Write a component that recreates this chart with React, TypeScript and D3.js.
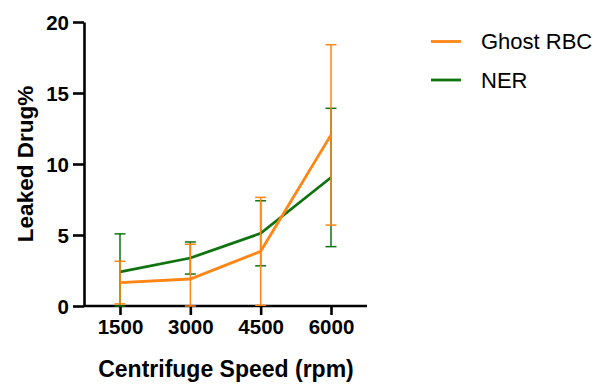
import React, { useEffect, useRef } from 'react';
import * as d3 from 'd3';

const speeds = ['1500', '3000', '4500', '6000'];
const ghostMean = [1.65, 1.9, 3.85, 12.05];
const ghostSd = [1.5, 2.45, 3.8, 6.35];
const nerMean = [2.4, 3.38, 5.12, 9.05];
const nerSd = [2.68, 1.13, 2.29, 4.87];
const yTicks = [0, 5, 10, 15, 20];

const series = [
  { name: 'NER', mean: nerMean, sd: nerSd, color: '#0f730f' },
  { name: 'Ghost RBC', mean: ghostMean, sd: ghostSd, color: '#ff8514' },
];
const legendOrder = ['Ghost RBC', 'NER'];

const App = () => {
  const svgRef = useRef<SVGSVGElement>(null);

  useEffect(() => {
    const width = 599;
    const height = 384;
    const svg = d3.select(svgRef.current);
    svg.selectAll('*').remove();
    svg.attr('width', width).attr('height', height);

    const font = '"Liberation Sans", Arial, Helvetica, sans-serif';

    const x = d3.scalePoint<string>().domain(speeds).range([120, 331]);
    const y = d3.scaleLinear().domain([0, 20]).range([306, 22]);

    // axes
    const yAxis = svg.append('g')
      .attr('transform', 'translate(84,0)')
      .call(d3.axisLeft(y).tickValues(yTicks).tickSize(11).tickPadding(4).tickSizeOuter(0));
    const xAxis = svg.append('g')
      .attr('transform', 'translate(0,306)')
      .call(d3.axisBottom(x).tickSize(9).tickPadding(4).tickSizeOuter(0));
    xAxis.select('.domain').attr('d', 'M84,0H367');
    [yAxis, xAxis].forEach(g => {
      g.select('.domain').attr('stroke', '#000').attr('stroke-width', 2.6);
      g.selectAll('.tick line').attr('stroke', '#000').attr('stroke-width', 2.6);
      g.selectAll('.tick text')
        .attr('font-family', font)
        .attr('font-weight', 'bold')
        .attr('font-size', 20.5)
        .attr('fill', '#000');
    });
    yAxis.selectAll('.tick text').attr('dy', '0.36em');

    // axis titles
    svg.append('text')
      .attr('transform', 'translate(33,164) rotate(-90)')
      .attr('text-anchor', 'middle')
      .attr('font-family', font)
      .attr('font-weight', 'bold')
      .attr('font-size', 22.5)
      .text('Leaked Drug%');
    svg.append('text')
      .attr('x', 226)
      .attr('y', 376.5)
      .attr('text-anchor', 'middle')
      .attr('font-family', font)
      .attr('font-weight', 'bold')
      .attr('font-size', 23)
      .text('Centrifuge Speed (rpm)');

    const line = d3.line<number>()
      .x((_, i) => x(speeds[i]) as number)
      .y(d => y(d));

    series.forEach(s => {
      const g = svg.append('g');
      s.mean.forEach((m, i) => {
        const cx = x(speeds[i]) as number;
        const lo = Math.max(0, m - s.sd[i]);
        const hi = m + s.sd[i];
        g.append('line')
          .attr('x1', cx).attr('x2', cx)
          .attr('y1', y(lo)).attr('y2', y(hi))
          .attr('stroke', s.color).attr('stroke-width', 1.5);
        [hi, lo].forEach(v => {
          g.append('line')
            .attr('x1', cx - 5.5).attr('x2', cx + 5.5)
            .attr('y1', y(v)).attr('y2', y(v))
            .attr('stroke', s.color).attr('stroke-width', 1.5);
        });
      });
      g.append('path')
        .datum(s.mean)
        .attr('d', line)
        .attr('fill', 'none')
        .attr('stroke', s.color)
        .attr('stroke-width', 2.8);
    });

    // legend
    legendOrder.forEach((name, i) => {
      const s = series.find(d => d.name === name)!;
      const ly = 41.5 + i * 38.5;
      svg.append('line')
        .attr('x1', 431).attr('x2', 461)
        .attr('y1', ly).attr('y2', ly)
        .attr('stroke', s.color).attr('stroke-width', 2.8);
      svg.append('text')
        .attr('x', 481)
        .attr('y', ly + 7.5)
        .attr('font-family', font)
        .attr('font-size', 22)
        .attr('fill', '#000')
        .text(name);
    });
  }, []);

  return (
    <svg ref={svgRef} style={{ position: 'absolute', left: 0, top: 0 }}></svg>
  );
};

export default App;
